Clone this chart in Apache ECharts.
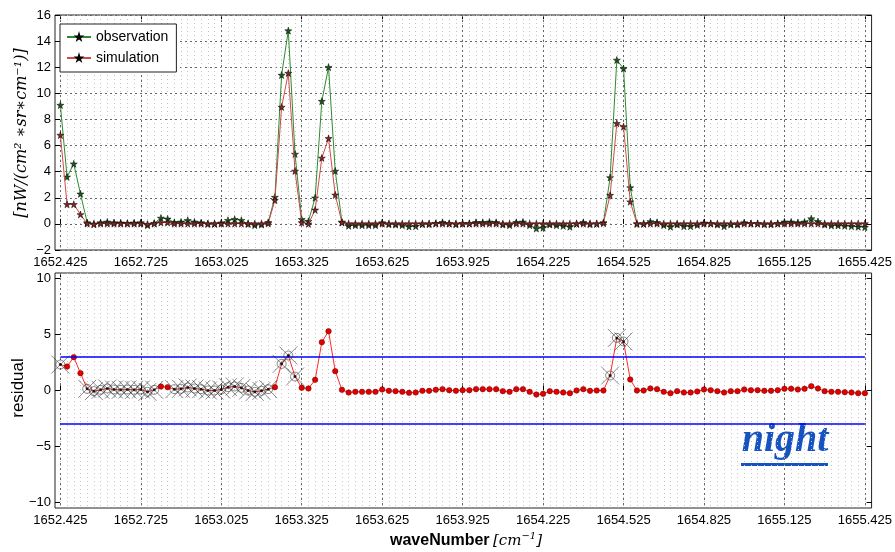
<!DOCTYPE html>
<html>
<head>
<meta charset="utf-8">
<script src="https://cdn.jsdelivr.net/npm/echarts@6/dist/echarts.min.js"></script>
<style>
  html, body { margin: 0; padding: 0; background: #fff; }
  #chart { width: 895px; height: 552px; }
</style>
</head>
<body>
<div id="chart"></div>
<script>
// Spectral channels: evenly spaced wavenumbers [cm^-1]
const waveStart = 1652.425;
const waveStep = 0.025;
const waveCount = 121;
const waveNumbers = Array.from({ length: waveCount }, (_, i) => +(waveStart + i * waveStep).toFixed(3));

// Tick labels
const xTickValues = [1652.425, 1652.725, 1653.025, 1653.325, 1653.625, 1653.925, 1654.225, 1654.525, 1654.825, 1655.125, 1655.425];
const radianceTicks = [-2, 0, 2, 4, 6, 8, 10, 12, 14, 16];
const residualTicks = [-10, -5, 0, 5, 10];

// Radiance [nW/(cm^2*sr*cm^-1)]
const observation = [
  9.1, 3.6, 4.6, 2.3, 0.1, 0.0, 0.1, 0.15, 0.1, 0.08,
  0.05, 0.08, 0.1, -0.1, 0.05, 0.45, 0.38, 0.12, 0.15, 0.28,
  0.15, 0.1, 0.0, 0.0, 0.08, 0.28, 0.35, 0.28, 0.0, -0.1,
  -0.05, 0.12, 2.05, 11.4, 14.8, 5.35, 0.35, 0.2, 2.0, 9.4,
  12.0, 4.05, 0.15, -0.15, -0.1, -0.1, -0.1, -0.1, 0.1, -0.02,
  -0.05, -0.1, -0.2, -0.18, -0.02, -0.02, 0.05, 0.12, 0.03, -0.03,
  0.03, 0.03, 0.12, 0.12, 0.15, 0.12, -0.05, -0.1, 0.12, 0.15,
  -0.1, -0.35, -0.3, -0.05, -0.1, -0.15, -0.22, 0.0, 0.12, -0.02,
  0.0, 0.1, 3.55, 12.55, 11.9, 2.78, 0.0, 0.0, 0.18, 0.12,
  -0.1, -0.22, -0.05, -0.18, -0.18, -0.08, 0.08, 0.03, -0.05, -0.18,
  -0.05, -0.05, 0.1, 0.03, 0.03, -0.03, -0.03, 0.03, 0.15, 0.15,
  0.1, 0.15, 0.4, 0.18, -0.05, -0.12, -0.12, -0.15, -0.18, -0.22,
  -0.25
];
const simulation = [
  6.8, 1.5, 1.5, 0.72, 0.02, -0.02, 0.02, 0.02, 0.02, 0.02,
  0.02, 0.02, 0.02, -0.02, 0.02, 0.1, 0.1, 0.02, 0.02, 0.02,
  0.02, 0.02, 0.02, 0.02, 0.02, 0.02, 0.02, 0.02, 0.02, 0.02,
  0.02, 0.03, 1.82, 8.95, 11.55, 4.05, 0.1, 0.0, 1.07, 5.05,
  6.55, 2.22, 0.1, 0.02, 0.02, 0.02, 0.02, 0.02, 0.02, 0.02,
  0.02, 0.02, 0.02, 0.02, 0.02, 0.02, 0.02, 0.02, 0.02, 0.02,
  0.02, 0.02, 0.02, 0.02, 0.02, 0.02, 0.02, 0.02, 0.02, 0.02,
  0.02, 0.02, 0.02, 0.02, 0.02, 0.02, 0.02, 0.02, 0.02, 0.02,
  0.02, 0.05, 2.2, 7.7, 7.45, 1.7, 0.02, 0.02, 0.02, 0.02,
  0.02, 0.02, 0.02, 0.02, 0.02, 0.02, 0.02, 0.02, 0.02, 0.02,
  0.02, 0.02, 0.02, 0.02, 0.02, 0.02, 0.02, 0.02, 0.02, 0.02,
  0.02, 0.02, 0.02, 0.02, 0.02, 0.02, 0.02, 0.02, 0.02, 0.02,
  0.02
];
const residual = [
  2.32, 2.14, 2.98, 1.55, 0.15, -0.06, 0.06, 0.18, 0.09, 0.06,
  0.09, 0.06, 0.09, -0.12, 0.06, 0.36, 0.3, 0.12, 0.15, 0.27,
  0.18, 0.12, 0.0, 0.0, 0.09, 0.3, 0.36, 0.24, 0.0, -0.12,
  -0.03, 0.12, 0.3, 2.38, 3.13, 1.25, 0.24, 0.18, 0.95, 4.32,
  5.3, 1.73, 0.06, -0.18, -0.12, -0.12, -0.12, -0.12, 0.09, -0.03,
  -0.06, -0.12, -0.21, -0.18, -0.03, -0.03, 0.06, 0.12, 0.03, -0.03,
  0.03, 0.03, 0.12, 0.12, 0.12, 0.12, -0.06, -0.12, 0.12, 0.12,
  -0.12, -0.36, -0.3, -0.06, -0.12, -0.18, -0.24, 0.0, 0.12, -0.03,
  0.0, 0.0, 1.34, 4.7, 4.38, 0.98, 0.0, 0.0, 0.18, 0.12,
  -0.12, -0.24, -0.06, -0.18, -0.18, -0.09, 0.09, 0.03, -0.06, -0.18,
  -0.06, -0.06, 0.09, 0.03, 0.03, -0.03, -0.03, 0.03, 0.15, 0.15,
  0.09, 0.15, 0.39, 0.18, -0.06, -0.12, -0.12, -0.15, -0.18, -0.24,
  -0.24
];
// Channels rejected by the quality screening
const flaggedChannels = [0, 4, 5, 6, 7, 8, 9, 10, 11, 12, 13, 14,
  17, 18, 19, 20, 21, 22, 23, 24, 25, 26, 27, 28, 29, 30, 31,
  33, 34, 35, 82, 83, 84];
const residualLimit = 3;

const STAR = 'path://M50,0 L61,35 L98,35 L68,57 L79,91 L50,70 L21,91 L32,57 L2,35 L39,35 Z';
const CROSS = 'path://M0,0 L20,20 M20,0 L0,20 M15,10 A5,5 0 1 1 5,10 A5,5 0 1 1 15,10';

const SANS = "'Liberation Sans Narrow', 'Liberation Sans', Arial, sans-serif";
const SERIF_MATH = "'DejaVu Serif', 'Liberation Serif', serif";
const tickFont = { fontFamily: SANS, fontSize: 13, color: '#000' };
const xMin = 1652.405, xMax = 1655.45;
const flaggedSet = new Set(flaggedChannels);
const pairs = arr => waveNumbers.map((w, i) => [w, arr[i]]);
const minus = v => String(v).replace('-', '\u2212');

function xAxesFor(gridIndex) {
  return [
    { // major ticks, labels and grid
      type: 'value', gridIndex, min: xMin, max: xMax, position: 'bottom',
      axisLine: { show: false },
      axisTick: { show: true, inside: true, length: 5, customValues: xTickValues, lineStyle: { color: '#000' } },
      axisLabel: { show: true, customValues: xTickValues, formatter: v => v.toFixed(3), margin: 6, ...tickFont },
      splitLine: { show: true, lineStyle: { color: '#666', type: [2, 3], width: 1 } },
      z: 3
    },
    { // minor grid at every channel
      type: 'value', gridIndex, min: xMin, max: xMax, position: 'bottom',
      axisLine: { show: false },
      axisTick: { show: false, customValues: waveNumbers },
      axisLabel: { show: false, customValues: waveNumbers },
      splitLine: { show: true, lineStyle: { color: '#c4c4c4', type: [1, 3], width: 1 } },
      z: 1
    },
    { // mirrored ticks on top
      type: 'value', gridIndex, min: xMin, max: xMax, position: 'top',
      axisLine: { show: false },
      axisTick: { show: true, inside: true, length: 5, customValues: xTickValues, lineStyle: { color: '#000' } },
      axisLabel: { show: false, customValues: xTickValues },
      splitLine: { show: false }
    }
  ];
}

const option = {
  animation: false,
  backgroundColor: '#fff',
  grid: [
    { left: 55, right: 18, top: 15, height: 235, show: true, borderColor: '#222', borderWidth: 1, backgroundColor: 'transparent' },
    { left: 55, right: 18, top: 273, height: 235, show: true, borderColor: '#222', borderWidth: 1, backgroundColor: 'transparent' }
  ],
  xAxis: [...xAxesFor(0), ...xAxesFor(1)],
  yAxis: [
    {
      type: 'value', gridIndex: 0, min: -2, max: 16, position: 'left',
      axisLine: { show: false },
      axisTick: { show: true, inside: true, length: 5, customValues: radianceTicks, lineStyle: { color: '#000' } },
      axisLabel: { margin: 4, customValues: radianceTicks, formatter: minus, ...tickFont },
      splitLine: { show: true, lineStyle: { color: '#666', type: [2, 3], width: 1 } }
    },
    {
      type: 'value', gridIndex: 0, min: -2, max: 16, position: 'right',
      axisLine: { show: false },
      axisTick: { show: true, inside: true, length: 5, customValues: radianceTicks, lineStyle: { color: '#000' } },
      axisLabel: { show: false, customValues: radianceTicks }, splitLine: { show: false }
    },
    {
      type: 'value', gridIndex: 1, min: -10.5, max: 10.5, position: 'left',
      axisLine: { show: false },
      axisTick: { show: true, inside: true, length: 5, customValues: residualTicks, lineStyle: { color: '#000' } },
      axisLabel: { margin: 4, customValues: residualTicks, formatter: minus, ...tickFont },
      splitLine: { show: false }
    },
    {
      type: 'value', gridIndex: 1, min: -10.5, max: 10.5, position: 'right',
      axisLine: { show: false },
      axisTick: { show: true, inside: true, length: 5, customValues: residualTicks, lineStyle: { color: '#000' } },
      axisLabel: { show: false, customValues: residualTicks }, splitLine: { show: false }
    }
  ],
  legend: {
    left: 60, top: 24, orient: 'vertical',
    backgroundColor: '#fff', borderColor: '#222', borderWidth: 1, borderRadius: 0,
    padding: [6, 8, 7, 6], itemGap: 7, itemWidth: 24, itemHeight: 6,
    textStyle: { fontFamily: SANS, fontSize: 14, color: '#000' },
    data: ['observation', 'simulation']
  },
  series: [
    {
      name: 'observation', type: 'line', xAxisIndex: 0, yAxisIndex: 0,
      data: pairs(observation), symbol: STAR, symbolSize: 7, showAllSymbol: true,
      lineStyle: { color: '#2e8b2e', width: 1 },
      itemStyle: { color: '#1a5a1a', borderColor: '#000', borderWidth: 0.5 },
      z: 4
    },
    {
      name: 'simulation', type: 'line', xAxisIndex: 0, yAxisIndex: 0,
      data: pairs(simulation), symbol: STAR, symbolSize: 7, showAllSymbol: true,
      lineStyle: { color: '#d04a4a', width: 1 },
      itemStyle: { color: '#8a2424', borderColor: '#000', borderWidth: 0.5 },
      z: 5
    },
    {
      name: 'residual', type: 'line', xAxisIndex: 3, yAxisIndex: 2,
      data: waveNumbers.map((w, i) => flaggedSet.has(i)
        ? { value: [w, residual[i]], symbol: 'none' }
        : { value: [w, residual[i]] }),
      symbol: 'circle', symbolSize: 5.5, showAllSymbol: true,
      lineStyle: { color: '#ff2a2a', width: 1 },
      itemStyle: { color: '#e00000', borderColor: '#700000', borderWidth: 0.5 },
      markLine: {
        silent: true, symbol: 'none', animation: false,
        label: { show: false },
        lineStyle: { color: '#0000ff', width: 1.6, type: 'solid' },
        data: [
          [{ coord: [waveNumbers[0], residualLimit] }, { coord: [waveNumbers[waveCount - 1], residualLimit] }],
          [{ coord: [waveNumbers[0], -residualLimit] }, { coord: [waveNumbers[waveCount - 1], -residualLimit] }]
        ]
      },
      z: 4
    },
    {
      name: 'flagged', type: 'scatter', xAxisIndex: 3, yAxisIndex: 2,
      data: flaggedChannels.map(i => [waveNumbers[i], residual[i]]),
      symbol: CROSS, symbolSize: 18,
      itemStyle: { color: 'transparent', borderColor: 'rgba(40,40,40,0.75)', borderWidth: 0.9 },
      z: 5
    },
    {
      name: 'flaggedCentre', type: 'scatter', xAxisIndex: 3, yAxisIndex: 2,
      data: flaggedChannels.map(i => [waveNumbers[i], residual[i]]),
      symbol: 'circle', symbolSize: 3,
      itemStyle: { color: '#000' },
      z: 6
    }
  ],
  graphic: [
    {
      type: 'text', x: 22, y: 133, rotation: Math.PI / 2,
      style: {
        text: '[nW/(cm\u00b2 \u2217sr\u2217cm\u207b\u00b9)]',
        fontFamily: SERIF_MATH, fontStyle: 'italic', fontSize: 16,
        fill: '#000', align: 'center', verticalAlign: 'middle'
      }
    },
    {
      type: 'text', x: 18, y: 388, rotation: Math.PI / 2,
      style: {
        text: 'residual', fontFamily: 'Liberation Sans', fontSize: 17,
        fill: '#000', align: 'center', verticalAlign: 'middle'
      }
    },
    {
      type: 'text', x: 466, y: 541,
      style: {
        text: '{b|waveNumber} {m|[cm}{s|\u22121}{m|]}',
        align: 'center', verticalAlign: 'middle',
        rich: {
          b: { fontFamily: SANS, fontWeight: 'bold', fontSize: 16, fill: '#000' },
          m: { fontFamily: SERIF_MATH, fontStyle: 'italic', fontSize: 15, fill: '#000' },
          s: { fontFamily: SERIF_MATH, fontStyle: 'italic', fontSize: 10, fill: '#000', padding: [0, 0, 10, 0] }
        }
      }
    },
    {
      type: 'text', x: 785, y: 461,
      style: {
        text: 'night', fontFamily: "'Liberation Serif', serif", fontStyle: 'italic', fontWeight: 'bold',
        fontSize: 40, fill: '#1552c2', align: 'center', verticalAlign: 'bottom'
      }
    },
    {
      type: 'rect', shape: { x: 741, y: 463, width: 87, height: 3 },
      style: { fill: '#1552c2' }
    }
  ]
};

const chart = echarts.init(document.getElementById('chart'), null, { renderer: 'canvas' });
chart.setOption(option);
</script>
</body>
</html>
